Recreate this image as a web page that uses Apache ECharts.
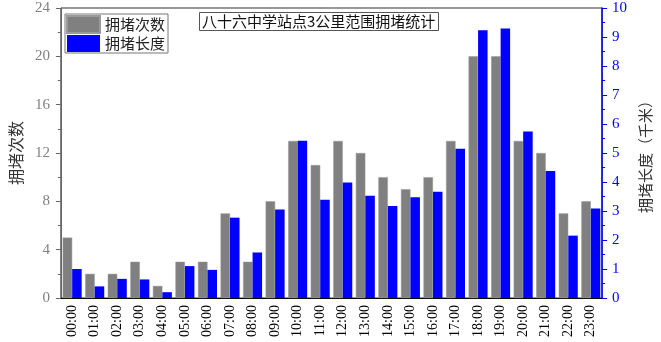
<!DOCTYPE html>
<html>
<head>
<meta charset="utf-8">
<script src="https://cdn.jsdelivr.net/npm/echarts@6/dist/echarts.min.js"></script>
<style>html,body{margin:0;padding:0;background:#fff}#c{width:661px;height:342px}</style>
</head>
<body>
<div id="c"></div>
<script>
const hours = ['00:00','01:00','02:00','03:00','04:00','05:00','06:00','07:00','08:00','09:00','10:00','11:00','12:00','13:00','14:00','15:00','16:00','17:00','18:00','19:00','20:00','21:00','22:00','23:00'];
const countValues = [5,2,2,3,1,3,3,7,3,8,13,11,13,12,10,9,10,13,20,20,13,12,7,8];
const lengthValues = [1.0,0.4,0.66,0.64,0.2,1.1,0.97,2.77,1.57,3.05,5.42,3.39,3.98,3.53,3.17,3.47,3.66,5.15,9.23,9.29,5.74,4.38,2.15,3.09];
const titleText = '八十六中学站点3公里范围拥堵统计';
const seriesNames = ['拥堵次数','拥堵长度'];
const leftName = '拥堵次数';
const rightName = '拥堵长度（千米）';

const serif = '"Liberation Serif","Noto Sans CJK SC",serif';
const cjk = '"Noto Sans CJK SC","Liberation Serif",serif';

const chart = echarts.init(document.getElementById('c'), null, {renderer:'canvas'});
chart.setOption({
  animation: false,
  backgroundColor: '#fff',
  title: {
    text: titleText,
    left: 199, top: 12,
    padding: [2, 3, 2, 3],
    borderColor: '#555', borderWidth: 1,
    textStyle: {fontFamily: cjk, fontSize: 15, fontWeight: 'normal', color: '#111'}
  },
  legend: {
    orient: 'vertical',
    left: 65, top: 14,
    itemWidth: 33, itemHeight: 17, itemGap: 1,
    padding: [1, 3, 1, 1],
    borderColor: '#777', borderWidth: 1,
    backgroundColor: '#fff',
    icon: 'rect',
    data: seriesNames,
    textStyle: {fontFamily: cjk, fontSize: 15, color: '#222'}
  },
  grid: {left: 48, right: 49, top: 8, bottom: 44, show: true, borderColor: '#333', borderWidth: 1, backgroundColor: 'transparent'},
  xAxis: {
    type: 'category',
    data: hours,
    axisLine: {lineStyle: {color: '#000', width: 1}},
    axisTick: {alignWithLabel: true, length: 5, lineStyle: {color: '#000'}},
    axisLabel: {rotate: 90, fontFamily: serif, fontSize: 14, color: '#000', margin: 7, interval: 0}
  },
  yAxis: [
    {
      type: 'value', min: 0, max: 24, interval: 4, position: 'left',
      name: leftName, nameLocation: 'middle', nameRotate: 90, nameGap: 30,
      nameTextStyle: {fontFamily: cjk, fontSize: 16, color: '#333'},
      axisLine: {show: true, lineStyle: {color: '#666'}},
      axisTick: {show: true, length: 5, lineStyle: {color: '#666'}},
      minorTick: {show: true, splitNumber: 2, length: 3, lineStyle: {color: '#666'}},
      splitLine: {show: false},
      axisLabel: {fontFamily: serif, fontSize: 15, color: '#808080', margin: 11}
    },
    {
      type: 'value', min: 0, max: 10, interval: 1, position: 'right',
      name: rightName, nameLocation: 'middle', nameRotate: 90, nameGap: 33,
      nameTextStyle: {fontFamily: cjk, fontSize: 15, color: '#333'},
      axisLine: {show: true, lineStyle: {color: '#0000ff', width: 1.5}},
      axisTick: {show: true, length: 5, lineStyle: {color: '#0000ff'}},
      minorTick: {show: true, splitNumber: 2, length: 3, lineStyle: {color: '#0000ff'}},
      splitLine: {show: false},
      axisLabel: {fontFamily: serif, fontSize: 15, color: '#0000ff', margin: 10}
    }
  ],
  series: [
    {name: seriesNames[0], type: 'bar', yAxisIndex: 0, data: countValues, barWidth: 9.5, barGap: '0%',
     itemStyle: {color: '#808080', borderColor: '#9a9a9a', borderWidth: 0.5}},
    {name: seriesNames[1], type: 'bar', yAxisIndex: 1, data: lengthValues, barWidth: 9.5, barGap: '0%',
     itemStyle: {color: '#0000ff'}}
  ]
});
</script>
</body>
</html>
